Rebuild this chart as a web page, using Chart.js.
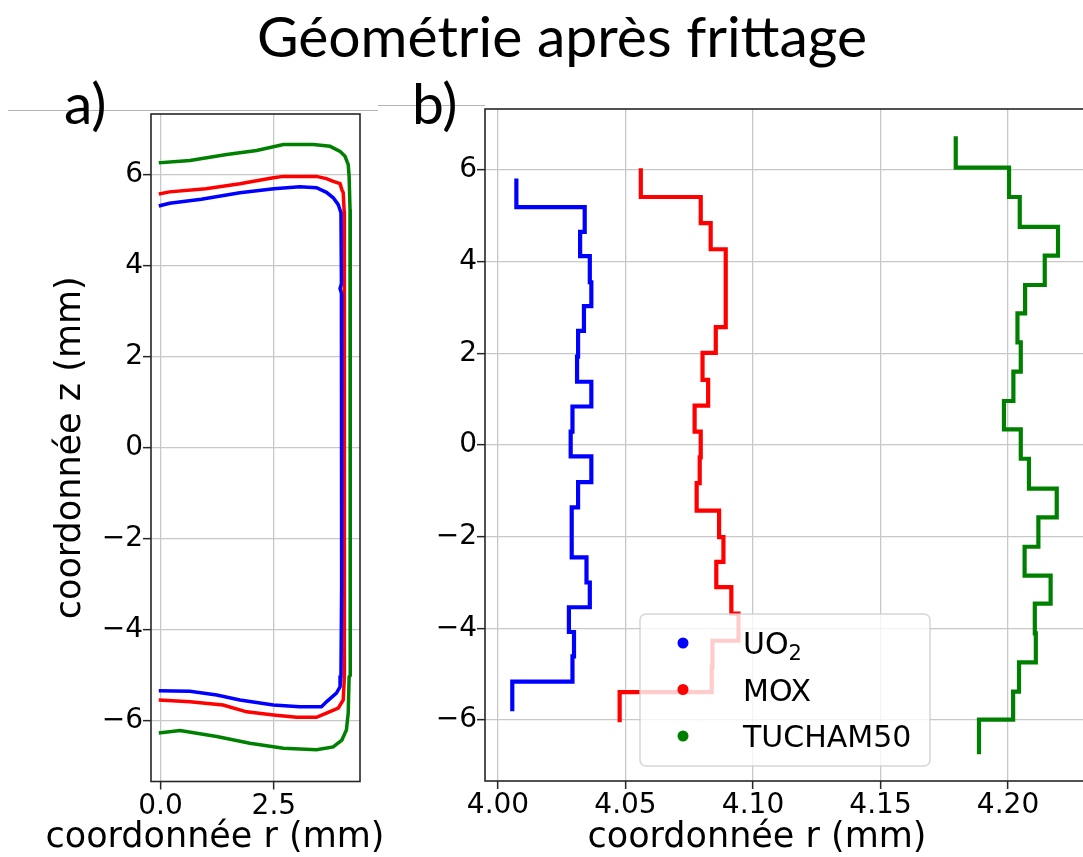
<!DOCTYPE html>
<html>
<head>
<meta charset="utf-8">
<script src="https://cdn.jsdelivr.net/npm/chart.js@4/dist/chart.umd.min.js"></script>
<style>
html, body { margin: 0; padding: 0; background: #fff; }
#page { position: relative; width: 1083px; height: 857px; overflow: hidden; background: #fff; }
.txt { position: absolute; font-family: Lato, "Open Sans", sans-serif; color: #000; line-height: 1; white-space: nowrap; z-index: 5; }
#title { left: 0; width: 1124px; text-align: center; top: 7px; font-size: 57px; }
#la { left: 64px; top: 74px; font-size: 57px; }
#lb { left: 412px; top: 74px; font-size: 57px; }
.rule { position: absolute; height: 0; border-top: 1px solid #b4b4b4; z-index: 1; }
canvas { position: absolute; z-index: 2; }
#chartA { left: 0; top: 84px; }
#chartB { left: 380px; top: 79px; z-index: 3; }
</style>
</head>
<body>
<div id="page">
  <div class="rule" style="left:8px; top:110px; width:370px;"></div>
  <div class="rule" style="left:378px; top:105px; width:107px;"></div>
  <div class="txt" id="title">Géométrie après frittage</div>
  <div class="txt" id="la">a)</div>
  <div class="txt" id="lb">b)</div>
  <canvas id="chartA" width="400" height="773"></canvas>
  <canvas id="chartB" width="720" height="778"></canvas>
</div>
<script>
// ---- panel b : slice edges (z, mm) and radius of each slice (r, mm)
var uo2Edges = [5.77, 5.19, 4.65, 4.12, 3.55, 3.03, 2.49, 1.93, 1.38, 0.84, 0.29, -0.25, -0.81, -1.36, -1.91, -2.45, -3.00, -3.54, -4.08, -4.61, -5.16, -5.76];
var uo2Radius = [4.0072, 4.0340, 4.0322, 4.0360, 4.0366, 4.0337, 4.0314, 4.0310, 4.0366, 4.0292, 4.0285, 4.0366, 4.0314, 4.0289, 4.0289, 4.0347, 4.0360, 4.0278, 4.0298, 4.0292, 4.0056];

var moxEdges = [5.99, 5.41, 4.84, 4.27, 3.70, 3.14, 2.57, 2.01, 1.42, 0.86, 0.29, -0.27, -0.83, -1.43, -2.01, -2.55, -3.10, -3.68, -4.27, -4.84, -5.39, -6.00];
var moxRadius = [4.0560, 4.0795, 4.0834, 4.0893, 4.0893, 4.0893, 4.0854, 4.0802, 4.0824, 4.0771, 4.0795, 4.0791, 4.0779, 4.0867, 4.0884, 4.0856, 4.0915, 4.0943, 4.0841, 4.0838, 4.0477];

var tuchamEdges = [6.69, 6.05, 5.41, 4.76, 4.13, 3.49, 2.87, 2.24, 1.60, 0.96, 0.34, -0.30, -0.95, -1.58, -2.22, -2.85, -3.46, -4.11, -4.74, -5.38, -5.99, -6.70];
var tuchamRadius = [4.1795, 4.2004, 4.2046, 4.2196, 4.2144, 4.2067, 4.2037, 4.2050, 4.2021, 4.1984, 4.2050, 4.2082, 4.2191, 4.2119, 4.2065, 4.2167, 4.2105, 4.2109, 4.2043, 4.2020, 4.1886];

// ---- panel a : whole pellet contour, top face -> side -> bottom face
var uo2ContourR = [0, 0.2, 0.9, 1.75, 2.5, 3.07, 3.44, 3.66, 3.81, 3.92, 3.98, 3.99, 3.96, 3.99, 4.0, 3.99, 3.98, 3.96, 3.88, 3.66, 3.55, 3.07, 2.49, 1.75, 1.24, 0.65, 0];
var uo2ContourZ = [5.32, 5.37, 5.46, 5.60, 5.69, 5.73, 5.71, 5.61, 5.49, 5.34, 5.16, 3.6, 3.5, 3.4, 0, -3.0, -5.0, -5.25, -5.39, -5.58, -5.69, -5.69, -5.65, -5.54, -5.43, -5.35, -5.34];

var moxContourR = [0, 0.2, 1.0, 1.75, 2.49, 2.71, 3.44, 3.66, 3.81, 3.96, 4.0, 4.03, 4.05, 4.06, 4.05, 4.03, 3.92, 3.66, 3.44, 3.0, 2.49, 1.9, 1.38, 0.65, 0];
var moxContourZ = [5.58, 5.62, 5.69, 5.80, 5.93, 5.96, 5.96, 5.91, 5.85, 5.80, 5.67, 5.60, 5.2, 0, -5.03, -5.54, -5.72, -5.83, -5.92, -5.92, -5.87, -5.80, -5.65, -5.58, -5.54];

var tuchamContourR = [0, 0.65, 1.46, 2.12, 2.71, 3.37, 3.74, 3.96, 4.07, 4.14, 4.16, 4.18, 4.19, 4.18, 4.16, 4.14, 4.10, 4.0, 3.81, 3.44, 2.71, 1.97, 1.24, 0.43, 0];
var tuchamContourZ = [6.26, 6.31, 6.44, 6.53, 6.66, 6.66, 6.62, 6.51, 6.40, 6.22, 5.96, 5.23, 0, -5.0, -5.03, -5.83, -6.20, -6.42, -6.57, -6.63, -6.60, -6.49, -6.34, -6.21, -6.26];

var seriesNames = ['UO₂', 'MOX', 'TUCHAM50'];
var seriesColors = ['#0000ff', '#ff0000', '#008000'];

var zTicks = { min: -7.33, max: 7.33, step: 2 };
var rTicksA = { min: -0.21, max: 4.40, step: 2.5 };
var rTicksB = { min: 3.9949, max: 4.2303, step: 0.05 };

function stepPoints(edges, radius) {
	var pts = [];
	for (var i = 0; i < radius.length; i++) {
		pts.push({ x: radius[i], y: edges[i] });
		pts.push({ x: radius[i], y: edges[i + 1] });
	}
	return pts;
}

function contourPoints(rs, zs) {
	var pts = [];
	for (var i = 0; i < rs.length; i++) pts.push({ x: rs[i], y: zs[i] });
	return pts;
}

function minusFmt(v) {
	return v < 0 ? '\u2212' + Math.abs(v) : '' + v;
}

var tickFont = { family: 'DejaVu Sans', size: 28 };
var labelFont = { family: 'DejaVu Sans', size: 35 };
var gridCol = '#c8c8c8';

var framePlugin = {
	id: 'frame',
	afterDraw: function(chart) {
		var a = chart.chartArea, c = chart.ctx;
		c.save();
		c.strokeStyle = '#262626';
		c.lineWidth = 1.6;
		c.strokeRect(a.left, a.top, a.right - a.left, a.bottom - a.top);
		c.restore();
	}
};

// x axis label, not squeezed to the plot width
var xLabel = {
	id: 'xLabel',
	afterDraw: function(chart, args, opts) {
		var c = chart.ctx;
		c.save();
		c.font = labelFont.size + 'px "DejaVu Sans"';
		c.fillStyle = '#000';
		c.textAlign = 'center';
		c.textBaseline = 'middle';
		c.fillText(opts.text, opts.cx, opts.cy);
		c.restore();
	}
};

// matplotlib-like legend box (dots only), drawn over the lines
var boxLegend = {
	id: 'boxLegend',
	afterDatasetsDraw: function(chart) {
		var c = chart.ctx, a = chart.chartArea;
		var bx = a.left + 155, by = a.bottom - 167, bw = 290, bh = 152;
		c.save();
		c.beginPath();
		c.roundRect(bx, by, bw, bh, 6);
		c.fillStyle = 'rgba(255,255,255,0.8)';
		c.fill();
		c.strokeStyle = 'rgba(204,204,204,0.8)';
		c.lineWidth = 1.5;
		c.stroke();
		chart.data.datasets.forEach(function(ds, i) {
			var y = by + 29 + i * 46.5;
			c.beginPath();
			c.arc(bx + 43, y, 5.5, 0, Math.PI * 2);
			c.fillStyle = ds.borderColor;
			c.fill();
			c.fillStyle = '#000';
			c.textBaseline = 'alphabetic';
			c.font = '30px "DejaVu Sans"';
			var parts = ds.label.split('₂');
			c.fillText(parts[0], bx + 103, y + 11);
			if (parts.length > 1) {
				var w = c.measureText(parts[0]).width;
				c.font = '21px "DejaVu Sans"';
				c.fillText('2', bx + 103 + w, y + 17);
			}
		});
		c.restore();
	}
};

function makeChart(id, datasets, rT, pad, yWidth, xHeight, yTitle, xTitle, lineW, plugins) {
	return new Chart(document.getElementById(id), {
		type: 'line',
		data: {
			datasets: datasets.map(function(pts, i) {
				return {
					label: seriesNames[i],
					data: pts,
					borderColor: seriesColors[i],
					backgroundColor: seriesColors[i],
					borderWidth: lineW,
					pointRadius: 0,
					fill: false,
					tension: 0,
					borderJoinStyle: 'miter',
					borderCapStyle: 'square'
				};
			})
		},
		options: {
			responsive: false,
			animation: false,
			devicePixelRatio: 1,
			layout: { padding: pad },
			plugins: {
				legend: { display: false },
				tooltip: { enabled: false },
				xLabel: xTitle
			},
			scales: {
				x: {
					type: 'linear',
					min: rT.min, max: rT.max,
					afterFit: function(s) { s.height = xHeight; },
					border: { display: false },
					grid: { color: gridCol, lineWidth: 1.3, tickLength: 8, tickColor: '#262626', tickWidth: 1.5 },
					ticks: {
						stepSize: rT.step, includeBounds: false, autoSkip: false, maxRotation: 0,
						font: tickFont, color: '#000', padding: 0,
						callback: function(v) { return rT.step < 0.1 ? v.toFixed(2) : v.toFixed(1); }
					}
				},
				y: {
					type: 'linear',
					min: zTicks.min, max: zTicks.max,
					afterFit: function(s) { s.width = yWidth; },
					border: { display: false },
					grid: { color: gridCol, lineWidth: 1.3, tickLength: 8, tickColor: '#262626', tickWidth: 1.5 },
					ticks: {
						stepSize: zTicks.step, includeBounds: false, autoSkip: false,
						font: tickFont, color: '#000', padding: 0,
						callback: minusFmt
					},
					title: { display: !!yTitle, text: yTitle || '', font: labelFont, color: '#000', padding: { top: 50, bottom: 0 } }
				}
			}
		},
		plugins: plugins
	});
}

makeChart('chartA', [
	contourPoints(uo2ContourR, uo2ContourZ),
	contourPoints(moxContourR, moxContourZ),
	contourPoints(tuchamContourR, tuchamContourZ)
], rTicksA, { top: 30, right: 40, left: 0, bottom: 0 }, 151, 75.5, 'coordonnée z (mm)',
	{ text: 'coordonnée r (mm)', cx: 215, cy: 754 }, 3.5, [framePlugin, xLabel]);

makeChart('chartB', [
	stepPoints(uo2Edges, uo2Radius),
	stepPoints(moxEdges, moxRadius),
	stepPoints(tuchamEdges, tuchamRadius)
], rTicksB, { top: 30, right: 14.7, left: 0, bottom: 0 }, 105, 76, null,
	{ text: 'coordonnée r (mm)', cx: 377, cy: 759 }, 4.2, [framePlugin, boxLegend, xLabel]);
</script>
</body>
</html>
